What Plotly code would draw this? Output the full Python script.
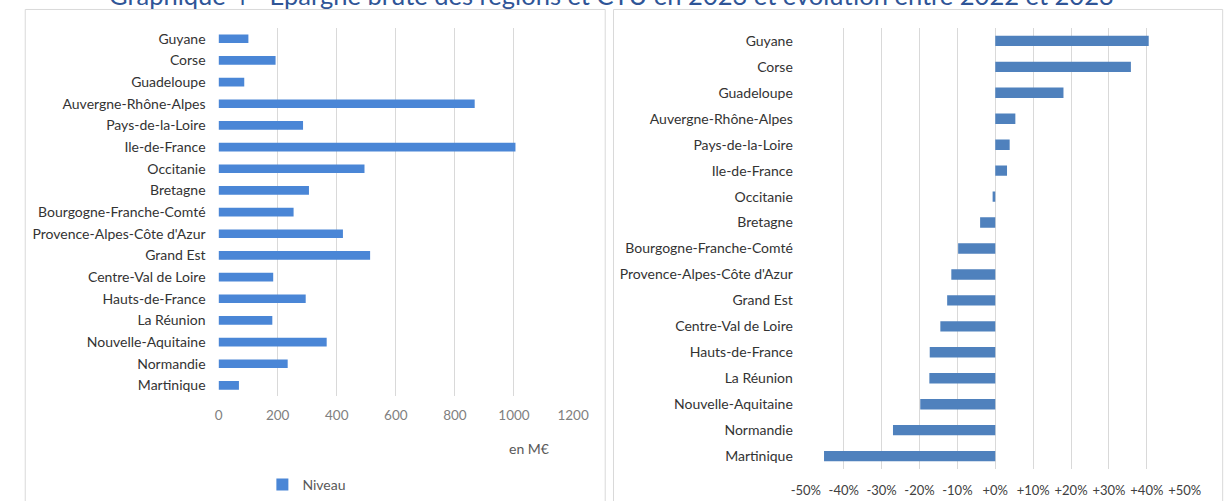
import plotly.graph_objects as go

W, H = 1228, 501

regions = ["Guyane", "Corse", "Guadeloupe", "Auvergne-Rhône-Alpes", "Pays-de-la-Loire",
           "Ile-de-France", "Occitanie", "Bretagne", "Bourgogne-Franche-Comté",
           "Provence-Alpes-Côte d'Azur", "Grand Est", "Centre-Val de Loire",
           "Hauts-de-France", "La Réunion", "Nouvelle-Aquitaine", "Normandie", "Martinique"]

niveau = [101, 193, 87, 867, 286, 1005, 494, 306, 254, 421, 513, 185, 295, 182, 366, 234, 69]

evolution = [0.405, 0.358, 0.180, 0.053, 0.038, 0.031, -0.007, -0.040, -0.098,
             -0.116, -0.127, -0.145, -0.173, -0.174, -0.198, -0.270, -0.452]

left_ticks = [0, 200, 400, 600, 800, 1000, 1200]
right_tickvals = [-0.5, -0.4, -0.3, -0.2, -0.1, 0, 0.1, 0.2, 0.3, 0.4, 0.5]
right_ticktext = ["-50%", "-40%", "-30%", "-20%", "-10%", "+0%", "+10%", "+20%", "+30%", "+40%", "+50%"]

title_text = "Graphique 4 - Épargne brute des régions et CTU en 2023 et évolution entre 2022 et 2023"

FONT = "Lato"


def px_x(p):
    return p / W


def px_y(p):
    return 1 - p / H


fig = go.Figure()

fig.add_trace(go.Bar(
    y=regions, x=niveau, orientation="h", name="Niveau",
    marker=dict(color="#4A86D6", line=dict(width=0)),
    xaxis="x", yaxis="y", showlegend=True,
))

fig.add_trace(go.Bar(
    y=regions, x=evolution, orientation="h", name="Évolution",
    marker=dict(color="#4F81BD", line=dict(width=0)),
    xaxis="x2", yaxis="y2", showlegend=False,
))

fig.update_layout(
    width=W, height=H,
    margin=dict(l=0, r=0, t=0, b=0),
    paper_bgcolor="white", plot_bgcolor="white",
    font=dict(family=FONT, size=14, color="#404040"),
    bargap=0.6,
    xaxis=dict(domain=[px_x(209), px_x(573)], range=[0, 1200], tickvals=left_ticks,
               showgrid=True, gridcolor="#d9d9d9", gridwidth=1, zeroline=False,
               showline=False, ticks="", ticklabelstandoff=9,
               tickfont=dict(size=13.5, color="#808080"),
               anchor="y", fixedrange=True),
    yaxis=dict(domain=[px_y(397), px_y(28)], autorange="reversed", showgrid=False,
               zeroline=False, showline=False, ticks="", ticklabelstandoff=12,
               tickfont=dict(size=14, color="#333333"), anchor="x"),
    xaxis2=dict(domain=[px_x(812), px_x(1201)], range=[-0.5, 0.5],
                tickvals=right_tickvals, ticktext=right_ticktext,
                showgrid=True, gridcolor="#d9d9d9", gridwidth=1, zeroline=False,
                showline=False, ticks="", ticklabelstandoff=12,
                tickfont=dict(size=13, color="#404040"),
                anchor="y2"),
    yaxis2=dict(domain=[px_y(470), px_y(28)], autorange="reversed", showgrid=False,
                zeroline=False, showline=False, ticks="", ticklabelstandoff=12,
                tickfont=dict(size=14, color="#333333"), anchor="x2"),
    legend=dict(x=px_x(254), y=px_y(486), xanchor="left", yanchor="middle",
                orientation="h", font=dict(size=14, color="#595959"),
                bgcolor="rgba(0,0,0,0)", itemwidth=30),
    shapes=[
        dict(type="rect", xref="paper", yref="paper", x0=px_x(10.5), x1=px_x(606), y0=px_y(520), y1=px_y(9.5),
             line=dict(color="#d9d9d9", width=1), fillcolor="rgba(0,0,0,0)", layer="below"),
        dict(type="rect", xref="paper", yref="paper", x0=px_x(614.5), x1=px_x(1240), y0=px_y(520), y1=px_y(9.5),
             line=dict(color="#d9d9d9", width=1), fillcolor="rgba(0,0,0,0)", layer="below"),
    ],
    annotations=[
        dict(text=title_text, xref="paper", yref="paper", x=px_x(612), y=px_y(-5),
             xanchor="center", yanchor="middle", showarrow=False,
             font=dict(family=FONT, size=25.5, color="#2F5597")),
        dict(text="en M€", xref="paper", yref="paper", x=px_x(528), y=px_y(449),
             xanchor="center", yanchor="middle", showarrow=False,
             font=dict(family=FONT, size=14, color="#595959")),
    ],
)

fig.write_html("out.html", config={"displayModeBar": False},
               post_script="document.body.style.margin='0';document.body.style.overflow='hidden';")
